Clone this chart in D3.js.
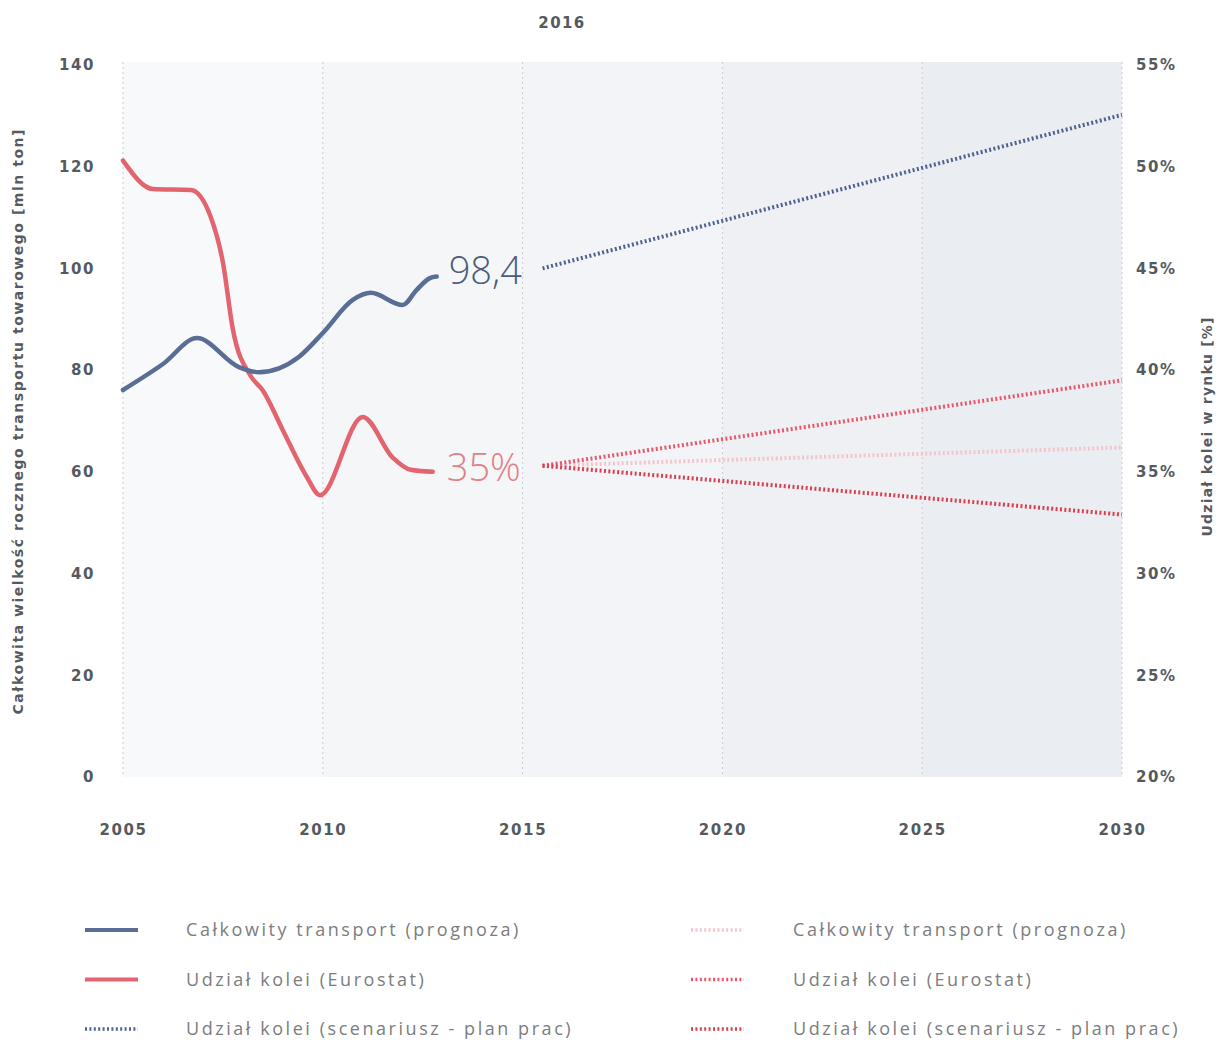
<!DOCTYPE html>
<html>
<head>
<meta charset="utf-8">
<script src="https://cdn.jsdelivr.net/npm/d3@7"></script>
<style>
  html, body { margin: 0; padding: 0; background: #ffffff; }
  svg { display: block; }
</style>
</head>
<body>
<svg id="chart" width="1222" height="1040"></svg>
<script>
// Total freight transport, million tonnes (left axis)
const totalYears  = [2005, 2006, 2006.85, 2007.9, 2008.4, 2009.4, 2010, 2010.75, 2011.2, 2012, 2012.35, 2012.68, 2012.85];
const totalValues = [76.1, 81.2, 86.3, 80.6, 79.6, 82.6, 87.3, 93.8, 95.2, 92.8, 95.8, 98.1, 98.4];

// Rail market share, Eurostat, % (right axis)
const railYears  = [2005, 2005.75, 2006.7, 2007.2, 2007.5, 2007.75, 2008.2, 2008.5, 2009, 2009.6, 2009.93, 2011, 2011.75, 2012.2, 2012.75];
const railValues = [50.3, 48.9, 48.85, 47.5, 45.3, 42.0, 39.7, 39.0, 37.05, 34.75, 33.85, 37.7, 35.7, 35.1, 35.0];

// Projections from 2015.5 to 2030
const projYears       = [2015.5, 2030];
const projTotal       = [100, 130.2];   // mln ton
const projRailHigh    = [35.3, 39.5];   // %
const projRailMid     = [35.3, 36.2];   // %
const projRailLow     = [35.3, 32.9];   // %

// Axis ticks
const yearTicks  = [2005, 2010, 2015, 2020, 2025, 2030];
const tonTicks   = [0, 20, 40, 60, 80, 100, 120, 140];
const shareTicks = [20, 25, 30, 35, 40, 45, 50, 55];

// Legend entries
const legendLabels = [
  "Całkowity transport (prognoza)",
  "Udział kolei (Eurostat)",
  "Udział kolei (scenariusz - plan prac)",
  "Całkowity transport (prognoza)",
  "Udział kolei (Eurostat)",
  "Udział kolei (scenariusz - plan prac)"
];

const endTotalLabel = "98,4";
const endRailLabel  = "35%";

// ---------- drawing ----------
const svg = d3.select("#chart");
const FONT = "'Open Sans', 'DejaVu Sans', sans-serif";
const BOLD = "'DejaVu Sans', 'Open Sans', sans-serif";

const C = {
  blue: "#5a6e95",
  blueDot: "#4e6290",
  red: "#e1646f",
  redHigh: "#e8586a",
  redMid: "#f5c4cb",
  redLow: "#d8404f",
  text: "#555a60",
  legendText: "#7b7d80",
  grid: "#c9cbd0"
};

const x  = d3.scaleLinear().domain([2005, 2030]).range([123, 1122]);
const yL = d3.scaleLinear().domain([0, 140]).range([777, 65]);
const yR = d3.scaleLinear().domain([20, 55]).range([777, 65]);

// background bands between gridlines, darkening toward the forecast years
const bandFills = ["#f8f9fb", "#f5f6f8", "#f3f4f7", "#eef0f4", "#eaedf2"];
svg.append("g").selectAll("rect")
  .data(d3.pairs(yearTicks))
  .join("rect")
  .attr("x", d => x(d[0]))
  .attr("width", d => x(d[1]) - x(d[0]))
  .attr("y", 62)
  .attr("height", 777 - 62)
  .attr("fill", (d, i) => bandFills[i]);

// vertical dotted gridlines
svg.append("g").selectAll("line")
  .data(yearTicks)
  .join("line")
  .attr("x1", d => x(d)).attr("x2", d => x(d))
  .attr("y1", 62).attr("y2", 777)
  .attr("stroke", C.grid)
  .attr("stroke-width", 1)
  .attr("stroke-dasharray", "2,3");

// axes
function styleAxis(g) {
  g.select(".domain").remove();
  g.selectAll(".tick line").remove();
  g.selectAll("text")
    .attr("font-family", BOLD)
    .attr("font-weight", 700)
    .attr("font-size", 15)
    .attr("letter-spacing", "1.6px")
    .attr("fill", C.text);
}

svg.append("g")
  .attr("transform", "translate(123,0)")
  .call(d3.axisLeft(yL).tickValues(tonTicks).tickSize(0).tickPadding(28))
  .call(styleAxis);

svg.append("g")
  .attr("transform", "translate(1122,0)")
  .call(d3.axisRight(yR).tickValues(shareTicks).tickSize(0).tickPadding(14).tickFormat(d => d + "%"))
  .call(styleAxis);

svg.append("g")
  .attr("transform", "translate(0,777)")
  .call(d3.axisBottom(x).tickValues(yearTicks).tickSize(0).tickPadding(47).tickFormat(d3.format("d")))
  .call(styleAxis);

// title
svg.append("text")
  .attr("x", 562).attr("y", 28)
  .attr("text-anchor", "middle")
  .attr("font-family", BOLD).attr("font-weight", 700).attr("font-size", 15)
  .attr("letter-spacing", "1.4px")
  .attr("fill", C.text)
  .text("2016");

// axis titles
svg.append("text")
  .attr("transform", "translate(23,422) rotate(-90)")
  .attr("text-anchor", "middle")
  .attr("font-family", BOLD).attr("font-weight", 700).attr("font-size", 14)
  .attr("textLength", 585).attr("lengthAdjust", "spacing")
  .attr("fill", C.text)
  .text("Całkowita wielkość rocznego transportu towarowego [mln ton]");

svg.append("text")
  .attr("transform", "translate(1212,427) rotate(-90)")
  .attr("text-anchor", "middle")
  .attr("font-family", BOLD).attr("font-weight", 700).attr("font-size", 14)
  .attr("textLength", 219).attr("lengthAdjust", "spacing")
  .attr("fill", C.text)
  .text("Udział kolei w rynku [%]");

// lines
const lineL = d3.line().x(d => x(d[0])).y(d => yL(d[1])).curve(d3.curveMonotoneX);
const lineR = d3.line().x(d => x(d[0])).y(d => yR(d[1])).curve(d3.curveMonotoneX);

const totalData = d3.zip(totalYears, totalValues);
const railData  = d3.zip(railYears, railValues);

const DOT = "2,2.4";

svg.append("path").datum(d3.zip(projYears, projRailMid))
  .attr("d", lineR).attr("fill", "none")
  .attr("stroke", C.redMid).attr("stroke-width", 4).attr("stroke-dasharray", DOT);
svg.append("path").datum(d3.zip(projYears, projRailHigh))
  .attr("d", lineR).attr("fill", "none")
  .attr("stroke", C.redHigh).attr("stroke-width", 4).attr("stroke-dasharray", DOT);
svg.append("path").datum(d3.zip(projYears, projRailLow))
  .attr("d", lineR).attr("fill", "none")
  .attr("stroke", C.redLow).attr("stroke-width", 4).attr("stroke-dasharray", DOT);
svg.append("path").datum(d3.zip(projYears, projTotal))
  .attr("d", lineL).attr("fill", "none")
  .attr("stroke", C.blueDot).attr("stroke-width", 4).attr("stroke-dasharray", DOT);

svg.append("path").datum(railData)
  .attr("d", lineR).attr("fill", "none")
  .attr("stroke", C.red).attr("stroke-width", 4.5).attr("stroke-linecap", "round");
svg.append("path").datum(totalData)
  .attr("d", lineL).attr("fill", "none")
  .attr("stroke", C.blue).attr("stroke-width", 4.5).attr("stroke-linecap", "round");

// end-value labels
const lastTotal = totalData[totalData.length - 1];
const lastRail  = railData[railData.length - 1];
svg.append("text")
  .attr("x", x(lastTotal[0]) + 12).attr("y", yL(lastTotal[1]) - 6)
  .attr("dy", "0.36em")
  .attr("font-family", FONT).attr("font-weight", 300).attr("font-size", 38)
  .attr("fill", "#4d5c7a")
  .text(endTotalLabel);
svg.append("text")
  .attr("x", x(lastRail[0]) + 14).attr("y", yR(lastRail[1]) - 5)
  .attr("dy", "0.36em")
  .attr("font-family", FONT).attr("font-weight", 300).attr("font-size", 38)
  .attr("fill", "#e27f87")
  .text(endRailLabel);

// legend
const legendStyles = [
  { color: C.blue,    dash: null },
  { color: C.red,     dash: null },
  { color: C.blueDot, dash: DOT },
  { color: C.redMid,  dash: DOT },
  { color: "#e85a6b", dash: DOT },
  { color: C.redLow,  dash: DOT }
];

const legend = svg.append("g").selectAll("g")
  .data(legendLabels)
  .join("g")
  .attr("transform", (d, i) => {
    const col = Math.floor(i / 3), row = i % 3;
    return `translate(${col === 0 ? 85 : 691},${930 + row * 49.5})`;
  });

legend.append("line")
  .attr("x1", 0).attr("x2", 53)
  .attr("stroke", (d, i) => legendStyles[i].color)
  .attr("stroke-width", (d, i) => legendStyles[i].dash ? 3.5 : 4)
  .attr("stroke-dasharray", (d, i) => legendStyles[i].dash);

legend.append("text")
  .attr("x", (d, i) => i < 3 ? 101 : 102)
  .attr("dy", "0.35em")
  .attr("font-family", FONT).attr("font-weight", 400).attr("font-size", 18)
  .attr("letter-spacing", "2.55px")
  .attr("fill", C.legendText)
  .text(d => d);
</script>
</body>
</html>
